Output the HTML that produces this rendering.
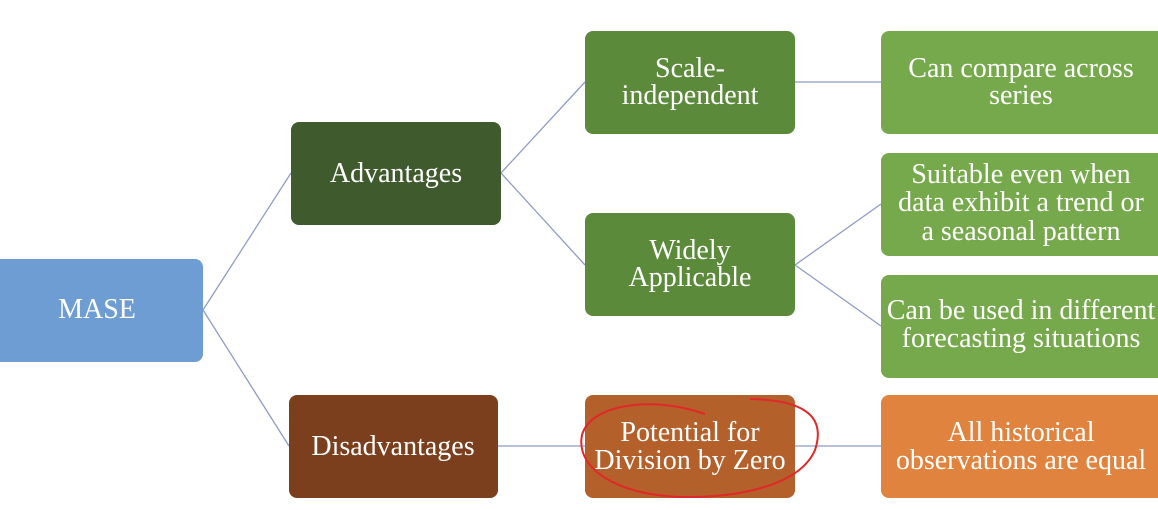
<!DOCTYPE html>
<html><head><style>
html,body{margin:0;padding:0;background:#fff;width:1158px;height:510px;overflow:hidden}
svg text{font-family:"Liberation Serif",serif;font-size:28px;fill:#fff;text-anchor:middle}
</style></head><body>
<svg width="1158" height="510" viewBox="0 0 1158 510">
<g stroke="#8e9cc8" stroke-width="1.3" fill="none">
<line x1="203" y1="310" x2="291" y2="173"/>
<line x1="203" y1="310" x2="289" y2="446"/>
<line x1="501" y1="173" x2="585" y2="82"/>
<line x1="501" y1="173" x2="585" y2="265"/>
<line x1="795" y1="82" x2="881" y2="82"/>
<line x1="795" y1="265" x2="881" y2="204"/>
<line x1="795" y1="265" x2="881" y2="326"/>
<line x1="498" y1="446" x2="585" y2="446"/>
<line x1="795" y1="446" x2="881" y2="446"/>
</g>
<rect x="-10" y="259" width="213" height="103" rx="8" fill="#6e9dd3"/>
<rect x="291" y="122" width="210" height="103" rx="8" fill="#3f5a2c"/>
<rect x="289" y="395" width="209" height="103" rx="8" fill="#7b3f1d"/>
<rect x="585" y="31" width="210" height="103" rx="8" fill="#5c8a3b"/>
<rect x="585" y="213" width="210" height="103" rx="8" fill="#5c8a3b"/>
<rect x="585" y="395" width="210" height="103" rx="8" fill="#b4602b"/>
<rect x="881" y="31" width="290" height="103" rx="8" fill="#76a94b"/>
<rect x="881" y="153" width="290" height="103" rx="8" fill="#76a94b"/>
<rect x="881" y="275" width="290" height="103" rx="8" fill="#76a94b"/>
<rect x="881" y="395" width="290" height="103" rx="8" fill="#e0833f"/>
<text x="97" y="318">MASE</text>
<text x="396" y="182">Advantages</text>
<text x="393" y="455">Disadvantages</text>
<text x="690" y="77">Scale-</text>
<text x="690" y="104">independent</text>
<text x="690" y="259">Widely</text>
<text x="690" y="286">Applicable</text>
<text x="690" y="441">Potential for</text>
<text x="690" y="469">Division by Zero</text>
<text x="1021" y="77">Can compare across</text>
<text x="1021" y="104">series</text>
<text x="1021" y="183">Suitable even when</text>
<text x="1021" y="211">data exhibit a trend or</text>
<text x="1021" y="240">a seasonal pattern</text>
<text x="1021" y="319">Can be used in different</text>
<text x="1021" y="347">forecasting situations</text>
<text x="1021" y="441">All historical</text>
<text x="1021" y="469">observations are equal</text>
<path d="M705,414 C650,395 590,405 582,435 C575,470 620,495 680,497 C740,498 800,485 815,450 C825,420 810,400 750,399" stroke="#e0282a" stroke-width="2" fill="none"/>
</svg>
</body></html>
